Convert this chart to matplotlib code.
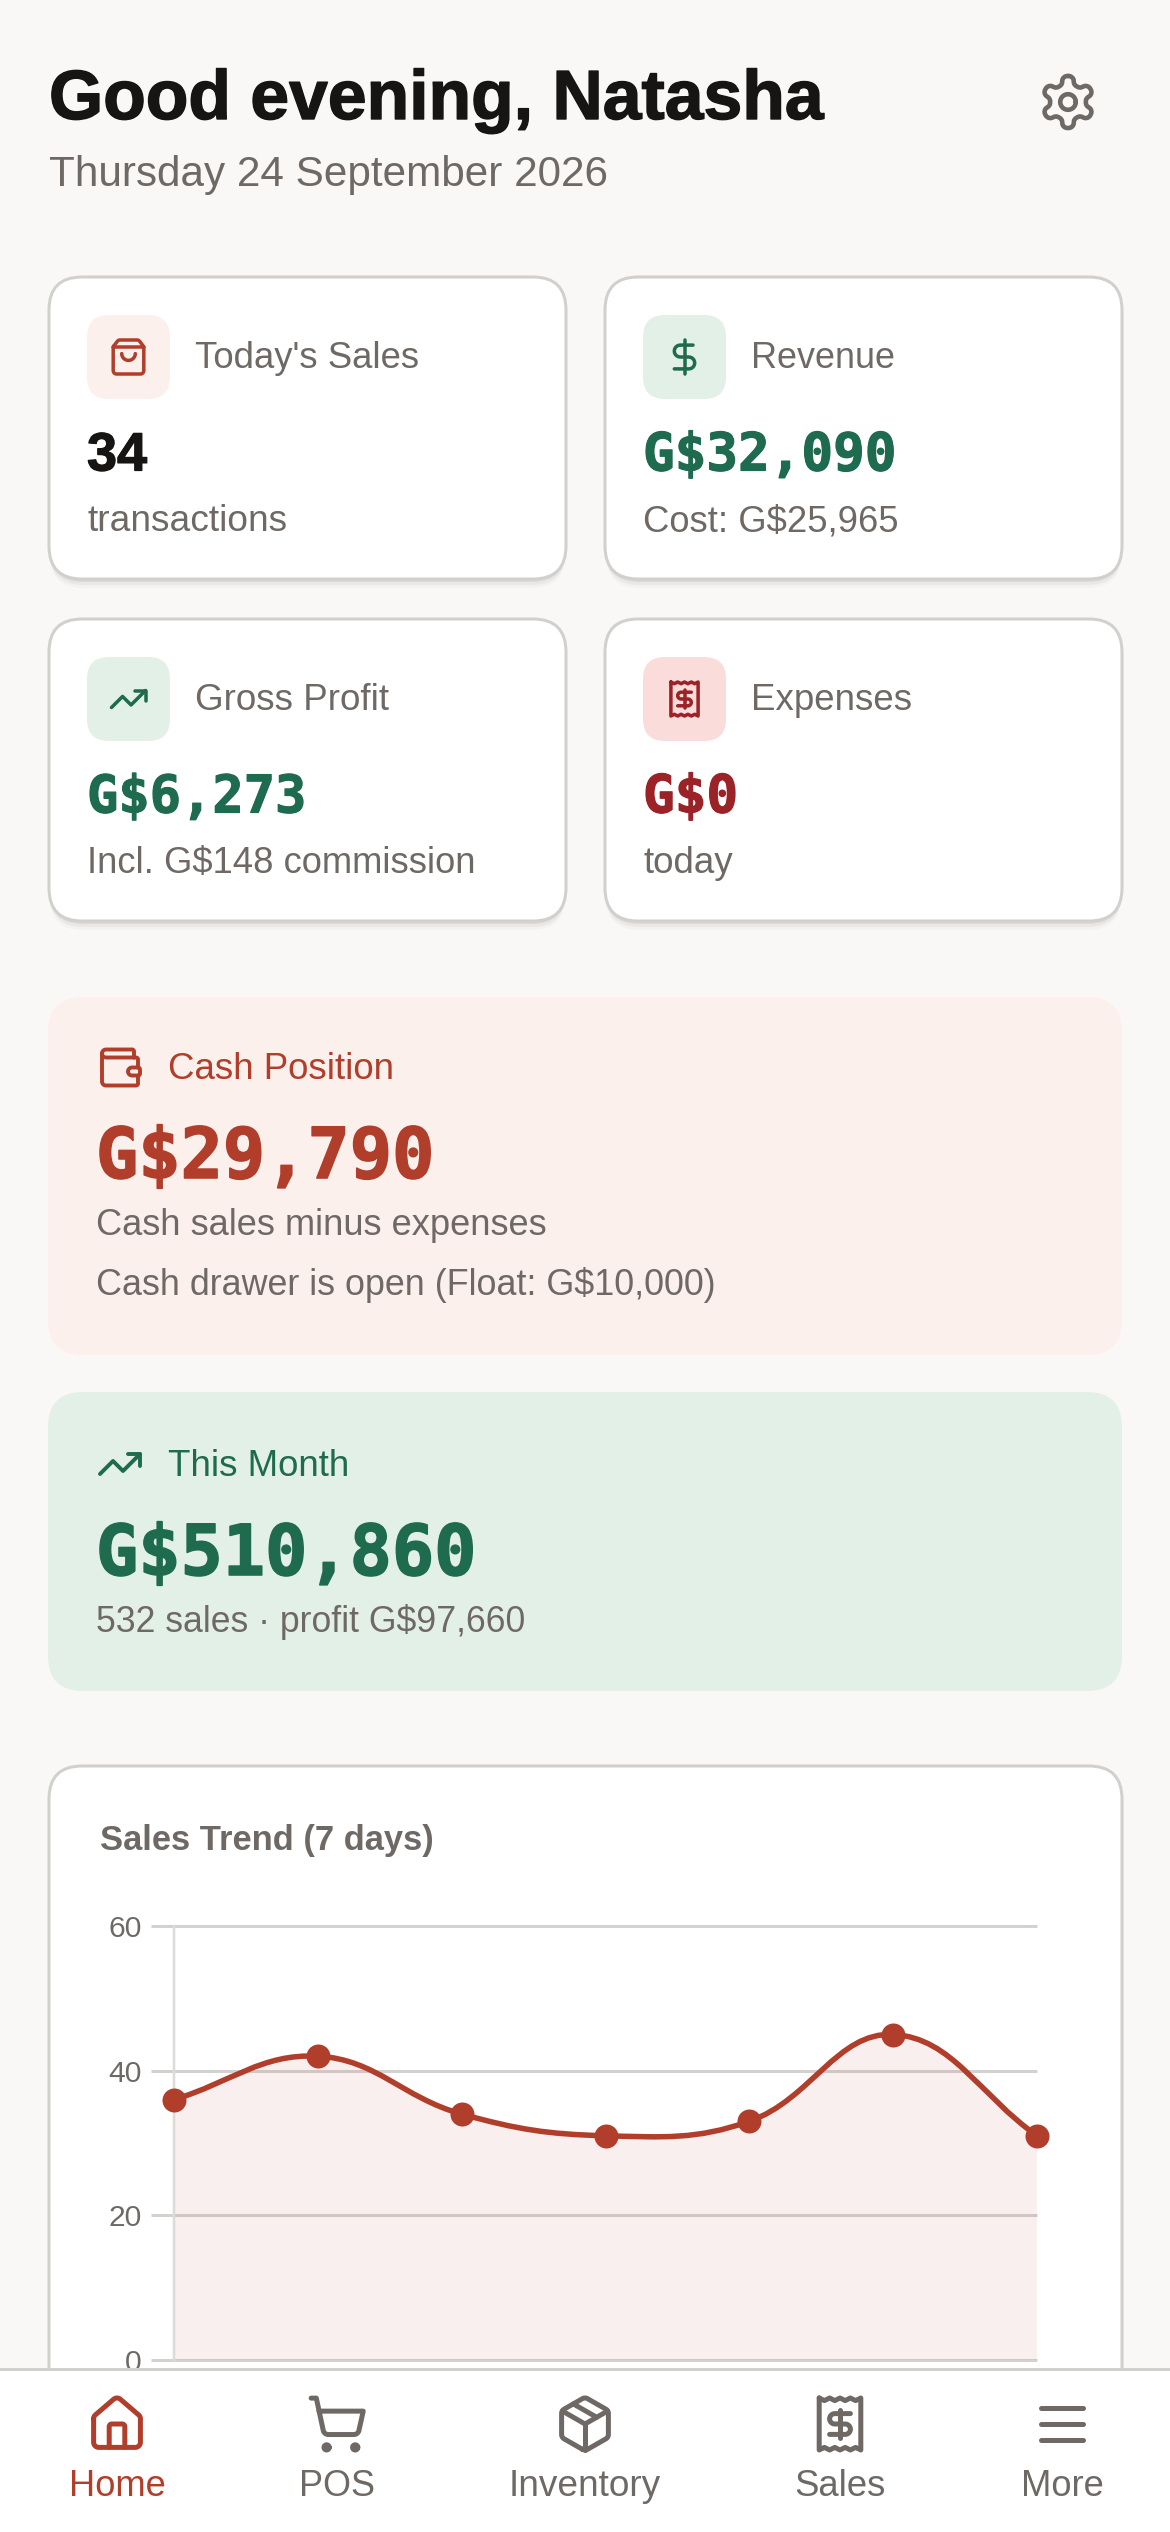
import re
import numpy as np
import matplotlib
matplotlib.use("Agg")
import matplotlib.pyplot as plt
import matplotlib.patheffects as pe
from matplotlib.patches import FancyBboxPatch, Rectangle, PathPatch
from matplotlib.path import Path

W, H = 1170, 2532
BG = "#FAF8F6"; INK = "#171513"; MUTED = "#6F6966"; RED = "#B03E2B"; GREEN = "#1E6B4F"; DRED = "#9B2226"
SANS = "Liberation Sans"; MONO = "DejaVu Sans Mono"

# ---- chart data ----
days = ["Fri", "Sat", "Sun", "Mon", "Tue", "Wed", "Thu"]
sales = [36, 42, 34, 31, 33, 45, 31]
y_ticks = [0, 20, 40, 60]

# ---- text content ----
greeting = "Good evening, Natasha"
date_line = "Thursday 24 September 2026"
card_labels = ["Today's Sales", "Revenue", "Gross Profit", "Expenses"]
card_values = ["34", "G$32,090", "G$6,273", "G$0"]
card_subs = ["transactions", "Cost: G$25,965", "Incl. G$148 commission", "today"]
nav_labels = ["Home", "POS", "Inventory", "Sales", "More"]

ICONS = {
 "gear": ["M12.22 2h-.44a2 2 0 0 0-2 2v.18a2 2 0 0 1-1 1.73l-.43.25a2 2 0 0 1-2 0l-.15-.08a2 2 0 0 0-2.73.73l-.22.38a2 2 0 0 0 .73 2.73l.15.1a2 2 0 0 1 1 1.72v.51a2 2 0 0 1-1 1.74l-.15.09a2 2 0 0 0-.73 2.73l.22.38a2 2 0 0 0 2.73.73l.15-.08a2 2 0 0 1 2 0l.43.25a2 2 0 0 1 1 1.73V20a2 2 0 0 0 2 2h.44a2 2 0 0 0 2-2v-.18a2 2 0 0 1 1-1.73l.43-.25a2 2 0 0 1 2 0l.15.08a2 2 0 0 0 2.73-.73l.22-.39a2 2 0 0 0-.73-2.73l-.15-.08a2 2 0 0 1-1-1.74v-.5a2 2 0 0 1 1-1.74l.15-.09a2 2 0 0 0 .73-2.73l-.22-.38a2 2 0 0 0-2.73-.73l-.15.08a2 2 0 0 1-2 0l-.43-.25a2 2 0 0 1-1-1.73V4a2 2 0 0 0-2-2z",
          "M15 12a3 3 0 1 1-6 0a3 3 0 1 1 6 0z"],
 "bag": ["M16 10a4 4 0 0 1-8 0", "M3.103 6.034h17.794",
         "M3.4 5.467a2 2 0 0 0-.4 1.2V20a2 2 0 0 0 2 2h14a2 2 0 0 0 2-2V6.667a2 2 0 0 0-.4-1.2l-2-2.667A2 2 0 0 0 17 2H7a2 2 0 0 0-1.6.8z"],
 "dollar": ["M12 2v20", "M17 5H9.5a3.5 3.5 0 0 0 0 7h5a3.5 3.5 0 0 1 0 7H6"],
 "trend": ["M22 7L13.5 15.5L8.5 10.5L2 17", "M16 7L22 7L22 13"],
 "receipt": ["M4 2v20l2-1 2 1 2-1 2 1 2-1 2 1 2-1 2 1V2l-2 1-2-1-2 1-2-1-2 1-2-1-2 1Z",
             "M16 8h-6a2 2 0 1 0 0 4h4a2 2 0 1 1 0 4H8", "M12 17.5v-11"],
 "wallet": ["M19 7V4a1 1 0 0 0-1-1H5a2 2 0 0 0 0 4h15a1 1 0 0 1 1 1v4h-3a2 2 0 0 0 0 4h3a1 1 0 0 0 1-1v-2a1 1 0 0 0-1-1",
            "M3 5v14a2 2 0 0 0 2 2h15a1 1 0 0 0 1-1v-4"],
 "house": ["M15 21v-8a1 1 0 0 0-1-1h-4a1 1 0 0 0-1 1v8",
           "M3 10a2 2 0 0 1 .709-1.528l7-5.999a2 2 0 0 1 2.582 0l7 5.999A2 2 0 0 1 21 10v9a2 2 0 0 1-2 2H5a2 2 0 0 1-2-2z"],
 "cart": ["M2.05 2.05h2l2.66 12.42a2 2 0 0 0 2 1.58h9.78a2 2 0 0 0 1.95-1.57l1.65-7.43H5.12",
          "M9 21a1 1 0 1 1-2 0a1 1 0 1 1 2 0z", "M20 21a1 1 0 1 1-2 0a1 1 0 1 1 2 0z"],
 "package": ["M11 21.73a2 2 0 0 0 2 0l7-4A2 2 0 0 0 21 16V8a2 2 0 0 0-1-1.73l-7-4a2 2 0 0 0-2 0l-7 4A2 2 0 0 0 3 8v8a2 2 0 0 0 1 1.73z",
             "M12 22V12", "M3.29 7L12 12L20.71 7", "M7.5 4.27L16.5 9.42"],
 "menu": ["M4 6h16", "M4 12h16", "M4 18h16"],
}


def arc_pts(x0, y0, rx, ry, large, sweep, x1, y1):
    if rx == 0 or ry == 0 or (x0 == x1 and y0 == y1):
        return [(x1, y1)]
    dx, dy = (x0 - x1) / 2, (y0 - y1) / 2
    lam = dx**2 / rx**2 + dy**2 / ry**2
    if lam > 1:
        rx *= np.sqrt(lam); ry *= np.sqrt(lam)
    num = max(rx**2 * ry**2 - rx**2 * dy**2 - ry**2 * dx**2, 0)
    den = rx**2 * dy**2 + ry**2 * dx**2
    c = np.sqrt(num / den) * (1 if large != sweep else -1)
    cxp, cyp = c * rx * dy / ry, -c * ry * dx / rx
    cx, cy = cxp + (x0 + x1) / 2, cyp + (y0 + y1) / 2
    a0 = np.arctan2((dy - cyp) / ry, (dx - cxp) / rx)
    a1 = np.arctan2((-dy - cyp) / ry, (-dx - cxp) / rx)
    da = a1 - a0
    if sweep and da < 0:
        da += 2 * np.pi
    if not sweep and da > 0:
        da -= 2 * np.pi
    return [(cx + rx * np.cos(a0 + da * t), cy + ry * np.sin(a0 + da * t)) for t in np.linspace(0, 1, 13)[1:]]


def svg_path(d):
    tok = re.findall(r"[MmLlHhVvAaCcZz]|[-+]?(?:\d+\.\d*|\.\d+|\d+)", d)
    i, cmd, x, y, sx, sy = 0, None, 0.0, 0.0, 0.0, 0.0
    V, C = [], []
    while i < len(tok):
        if re.match(r"[A-Za-z]", tok[i]):
            cmd = tok[i]; i += 1
            if cmd in "Zz":
                V.append((sx, sy)); C.append(Path.LINETO); x, y = sx, sy
                continue
        rel = cmd.islower(); c = cmd.upper()
        if c in "ML":
            nx, ny = float(tok[i]), float(tok[i + 1]); i += 2
            if rel:
                nx += x; ny += y
            x, y = nx, ny
            V.append((x, y)); C.append(Path.MOVETO if c == "M" else Path.LINETO)
            if c == "M":
                sx, sy = x, y
                cmd = "l" if rel else "L"
        elif c == "H":
            x = float(tok[i]) + (x if rel else 0); i += 1
            V.append((x, y)); C.append(Path.LINETO)
        elif c == "V":
            y = float(tok[i]) + (y if rel else 0); i += 1
            V.append((x, y)); C.append(Path.LINETO)
        elif c == "A":
            rx, ry, _, la, sw, nx, ny = [float(t) for t in tok[i:i + 7]]; i += 7
            if rel:
                nx += x; ny += y
            for p in arc_pts(x, y, rx, ry, int(la), int(sw), nx, ny):
                V.append(p); C.append(Path.LINETO)
            x, y = nx, ny
    return V, C


fig = plt.figure(figsize=(W / 100, H / 100), dpi=100, facecolor=BG)
ui = fig.add_axes([0, 0, 1, 1], zorder=0)
ui.set_xlim(0, W); ui.set_ylim(H, 0); ui.axis("off")
top = fig.add_axes([0, 0, 1, 1], zorder=3)
top.set_xlim(0, W); top.set_ylim(H, 0); top.axis("off"); top.patch.set_alpha(0)


def px(v):
    return v * 0.72


def rrect(ax, x0, y0, x1, y1, r, fc, ec="none", lw=0, z=1, alpha=None):
    p = FancyBboxPatch((x0 + r, y0 + r), x1 - x0 - 2 * r, y1 - y0 - 2 * r,
                       boxstyle=f"round,pad={r},rounding_size={r}", fc=fc, ec=ec,
                       lw=px(lw), zorder=z, alpha=alpha, mutation_aspect=1)
    ax.add_patch(p)


def txt(ax, x, y, s, size, color, family=SANS, weight="normal", ha="left", width=None, z=5, bold_px=0):
    t = ax.text(x, y + 1, s, fontsize=px(size), color=color, family=family, weight=weight,
                ha=ha, va="baseline", zorder=z)
    if width:
        w = t.get_window_extent(fig.canvas.get_renderer()).width
        t.set_fontsize(px(size) * width / w)
    if bold_px:
        t.set_path_effects([pe.withStroke(linewidth=px(bold_px), foreground=color)])
    return t


def icon(ax, name, cx, cy, scale, color, lw, z=6):
    for d in ICONS[name]:
        V, C = svg_path(d)
        pts = [(cx + (a - 12) * scale, cy + (b - 12) * scale) for a, b in V]
        ax.add_patch(PathPatch(Path(pts, C), fc="none", ec=color, lw=px(lw), zorder=z,
                               capstyle="round", joinstyle="round"))


def card(ax, x0, y0, x1, y1, r=33):
    for off, a in [(9, .025), (6, .04), (3, .06)]:
        rrect(ax, x0 + 1, y0 + off, x1 - 1, y1 + off, r, "#000000", alpha=a, z=1)
    rrect(ax, x0, y0, x1, y1, r, "#FFFFFF", ec="#D2D0CD", lw=3, z=2)


# header
txt(ui, 49, 118, greeting, 64, INK, weight="bold", width=775, bold_px=1.4)
txt(ui, 49, 185, date_line, 38, MUTED, width=558)
icon(ui, "gear", 1068, 102, 2.6, MUTED, 4.6)

# stat cards
col_x = [49, 605]
row_y = [277, 619]
tints = ["#FCF0ED", "#E3F0E8", "#E3F0E8", "#FADCDA"]
icon_names = ["bag", "dollar", "trend", "receipt"]
icon_cols = [RED, GREEN, GREEN, DRED]
val_cols = [INK, GREEN, GREEN, DRED]
label_w = [224, 144, 194, 161]
sub_w = [200, 255, 388, 90]
val_w = [60, 253, 219, 95]
for i in range(4):
    x0, y0 = col_x[i % 2], row_y[i // 2]
    card(ui, x0, y0, x0 + 517, y0 + 302)
    rrect(ui, x0 + 38, y0 + 38, x0 + 121, y0 + 122, 22, tints[i], z=3)
    icon(ui, icon_names[i], x0 + 79.5, y0 + 80, 1.7, icon_cols[i], 3.5)
    txt(ui, x0 + 146, y0 + 90, card_labels[i], 35, MUTED, width=label_w[i])
    fam = SANS if i == 0 else MONO
    txt(ui, x0 + 38, y0 + 192.5, card_values[i], 52, val_cols[i], family=fam, weight="bold",
        width=val_w[i], bold_px=1.2)
    txt(ui, x0 + 38, y0 + 253, card_subs[i], 35, MUTED, width=sub_w[i])

# cash position
rrect(ui, 48, 997, 1122, 1355, 35, "#FCF0ED", z=1)
icon(ui, "wallet", 120, 1067.5, 2.0, RED, 3.9)
txt(ui, 168, 1078, "Cash Position", 35, RED, width=226)
txt(ui, 96, 1177, "G$29,790", 74, RED, family=MONO, weight="bold", width=338, bold_px=1.6)
txt(ui, 96, 1234, "Cash sales minus expenses", 35, MUTED, width=451)
txt(ui, 96, 1294, "Cash drawer is open (Float: G$10,000)", 35, MUTED, width=622)

# this month
rrect(ui, 48, 1392, 1122, 1691, 35, "#E3F0E8", z=1)
icon(ui, "trend", 120, 1464, 2.0, GREEN, 3.9)
txt(ui, 168, 1475, "This Month", 35, GREEN, width=181)
txt(ui, 96, 1574, "G$510,860", 74, GREEN, family=MONO, weight="bold", width=380, bold_px=1.6)
txt(ui, 96, 1631, "532 sales \u00b7 profit G$97,660", 35, MUTED, width=430)

# chart card
card(ui, 49, 1766, 1122, 2620)
txt(ui, 100, 1849, "Sales Trend (7 days)", 35, MUTED, weight="bold", width=334)

AX_L, AX_R, AX_T, AX_B = 174, 1037, 1926, 2360
ax = fig.add_axes([AX_L / W, 1 - AX_B / H, (AX_R - AX_L) / W, (AX_B - AX_T) / H], zorder=1)
ax.patch.set_alpha(0)
ax.set_xlim(0, len(sales) - 1); ax.set_ylim(y_ticks[0], y_ticks[-1])
for s in ("top", "right", "bottom"):
    ax.spines[s].set_visible(False)
ax.spines["left"].set_color("#DDDBD8"); ax.spines["left"].set_linewidth(px(2.5))
ax.set_xticks([]); ax.set_yticks(y_ticks)
ax.set_yticklabels([str(v) for v in y_ticks], fontsize=px(30), color=MUTED, family=SANS)
ax.tick_params(axis="y", length=0, pad=px(32))
for v in y_ticks:
    ax.plot([-23 / ((AX_R - AX_L) / 6), 6], [v, v], color="#D4D2CF", lw=px(3), clip_on=False, zorder=1,
            solid_capstyle="butt")

# Chart.js-style bezier (tension 0.4) through the data, computed in pixel space
xs = np.arange(len(sales), dtype=float)
ys = np.array(sales, dtype=float)
sx_, sy_ = (AX_R - AX_L) / (len(sales) - 1), (AX_B - AX_T) / (y_ticks[-1] - y_ticks[0])
verts = [(xs[0], ys[0])]; codes = [Path.MOVETO]
ctrl = []
T = 0.4
for i in range(len(xs)):
    pi = max(i - 1, 0); ni = min(i + 1, len(xs) - 1)
    d1 = np.hypot((xs[i] - xs[pi]) * sx_, (ys[i] - ys[pi]) * sy_)
    d2 = np.hypot((xs[ni] - xs[i]) * sx_, (ys[ni] - ys[i]) * sy_)
    tot = (d1 + d2) or 1
    fa, fb = T * d1 / tot, T * d2 / tot
    dx, dy = xs[ni] - xs[pi], ys[ni] - ys[pi]
    ctrl.append(((xs[i] - fa * dx, ys[i] - fa * dy), (xs[i] + fb * dx, ys[i] + fb * dy)))
for i in range(len(xs) - 1):
    verts += [ctrl[i][1], ctrl[i + 1][0], (xs[i + 1], ys[i + 1])]
    codes += [Path.CURVE4] * 3
line = Path(verts, codes)
area = Path(verts + [(xs[-1], 0), (xs[0], 0), (xs[0], ys[0])], codes + [Path.LINETO] * 3)
ax.add_patch(PathPatch(area, fc=RED, alpha=0.08, ec="none", zorder=2))
ax.add_patch(PathPatch(line, fc="none", ec=RED, lw=px(5.5), zorder=3, clip_on=False))
ax.plot(xs, ys, "o", color=RED, ms=px(24), mew=0, zorder=4, clip_on=False)

# bottom nav
top.add_patch(Rectangle((0, 2369), W, H - 2369, fc="#FFFFFF", ec="none", zorder=1))
top.plot([0, W], [2369, 2369], color="#D2D0CD", lw=px(3), zorder=2)
nav_x = [117, 337, 585, 840, 1062]
nav_icons = ["house", "cart", "package", "receipt", "menu"]
nav_w = [97, 76, 152, 91, 83]
for i, lab in enumerate(nav_labels):
    c = RED if i == 0 else MUTED
    icon(top, nav_icons[i], nav_x[i], 2424, 2.6, c, 5)
    txt(top, nav_x[i], 2495, lab, 36, c, ha="center", width=nav_w[i])

fig.savefig("out.png", dpi=100, facecolor=BG)
